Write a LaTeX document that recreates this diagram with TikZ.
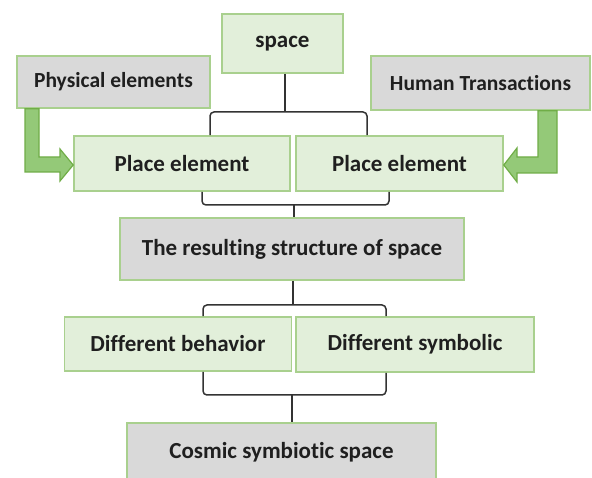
\documentclass[tikz,border=0pt]{standalone}
\usepackage{fontspec}
\setmainfont{Carlito}[Ligatures=NoCommon]
\definecolor{boxgreen}{HTML}{E2EFDA}
\definecolor{boxgray}{HTML}{D9D9D9}
\definecolor{edgegreen}{HTML}{A9D08E}
\definecolor{arrowfill}{HTML}{94C978}
\definecolor{arrowedge}{HTML}{70AD47}
\definecolor{linegray}{HTML}{333333}
\begin{document}
\begin{tikzpicture}[x=1pt,y=-1pt,
  base/.style={draw=edgegreen, line width=1.6pt, inner sep=0pt, font=\bfseries\fontsize{23}{26}\selectfont, text=black!88},
  smalltext/.style={font=\bfseries\fontsize{21.5}{24}\selectfont},
  greenbox/.style={base, fill=boxgreen},
  graybox/.style={base, fill=boxgray},
  bracket/.style={draw=linegray, line width=1.5pt, rounded corners=4pt},
  blockarrow/.style={fill=arrowfill, draw=arrowedge, line width=1.2pt, line join=miter}]
\useasboundingbox (0,0) rectangle (592,478);
\clip (0,0) rectangle (592,478);
\fill[white] (0,0) rectangle (592,478);

\node[greenbox, minimum width=121pt, minimum height=59pt] (space) at (282.5,43.5) {space};
\node[graybox, smalltext, minimum width=193pt, minimum height=52pt] (phys) at (113.5,82) {Physical elements};
\node[graybox, smalltext, minimum width=219pt, minimum height=54pt] (human) at (480.5,83) {Human Transactions};
\node[greenbox, minimum width=216pt, minimum height=55pt] (pl) at (182,163.5) {Place element};
\node[greenbox, minimum width=207pt, minimum height=55pt] (pr) at (399.5,163.5) {Place element};
\node[graybox, minimum width=344pt, minimum height=62pt] (res) at (292,249) {The resulting structure of space};
\node[greenbox, minimum width=227pt, minimum height=54pt] (db) at (178,344) {Different behavior};
\node[greenbox, minimum width=238pt, minimum height=55pt] (ds) at (415,344.5) {Different symbolic};
\node[graybox, minimum width=309pt, minimum height=67pt] (cos) at (281.5,456.5) {};
\node[font=\bfseries\fontsize{23}{26}\selectfont, text=black!88] (costext) at (281.5,452) {Cosmic symbiotic space};

% brackets
\coordinate (b1) at (285,112);
\draw[bracket] (space.south -| b1) -- (b1);
\draw[bracket] (pl.north -| 210,0) -- (210,112) -- (367,112) -- (pr.north -| 367,0);

\coordinate (b2) at (294,205);
\draw[bracket] (pl.south -| 202,0) -- (202,205) -- (389,205) -- (pr.south -| 389,0);
\draw[bracket] (b2) -- (res.north -| b2);

\coordinate (b3) at (293,305);
\draw[bracket] (res.south -| b3) -- (b3);
\draw[bracket] (db.north -| 203,0) -- (203,305) -- (386,305) -- (ds.north -| 386,0);

\coordinate (b4) at (292,395);
\draw[bracket] (db.south -| 203,0) -- (203,395) -- (386,395) -- (ds.south -| 386,0);
\draw[bracket] (b4) -- (cos.north -| b4);

% block arrows
\draw[blockarrow] (phys.south -| 25,0) -- (phys.south -| 39,0) -- (39,157) -- (60,157) -- (60,149)
  -- (pl.west |- 0,165) -- (60,181) -- (60,172) -- (25,172) -- cycle;
\draw[blockarrow] (human.south -| 557,0) -- (human.south -| 538,0) -- (538,157) -- (517,157) -- (517,148)
  -- (pr.east |- 0,165) -- (517,182) -- (517,173) -- (557,173) -- cycle;
\end{tikzpicture}
\end{document}
